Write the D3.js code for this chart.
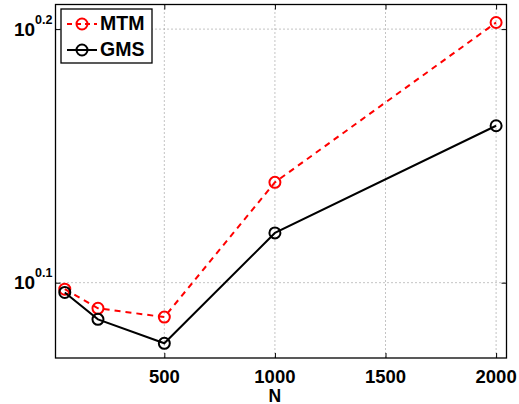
<!DOCTYPE html>
<html><head><meta charset="utf-8">
<script src="https://cdn.jsdelivr.net/npm/d3@7"></script>
<style>body{margin:0;background:#fff}svg{display:block}text{font-family:"Liberation Sans",Arial,sans-serif;font-weight:bold}</style>
</head><body>
<svg id="c" width="519" height="404"></svg>
<script>
const N = [50, 200, 500, 1000, 2000];
const mtm = [1.2515, 1.2300, 1.2202, 1.3790, 1.5944];
const gms = [1.2478, 1.2177, 1.1915, 1.3171, 1.4517];
const xTicks = [500, 1000, 1500, 2000];
const yTickExps = ["0.1", "0.2"];
const seriesNames = ["MTM", "GMS"];

const svg = d3.select("#c");
const L = 55.5, R = 506.5, T = 4.5, B = 358;
const x = d3.scaleLinear().domain([8, 2047]).range([L, R]);
const y = d3.scaleLog().domain([Math.pow(10, 0.0703), Math.pow(10, 0.2097)]).range([B, T]);

const grid = svg.append("g").attr("stroke", "#888").attr("stroke-width", 1).attr("stroke-dasharray", "1,3");
xTicks.forEach(t => grid.append("line").attr("x1", x(t)).attr("x2", x(t)).attr("y1", T).attr("y2", B));
yTickExps.forEach(e => { const v = Math.pow(10, +e); grid.append("line").attr("x1", L).attr("x2", R).attr("y1", y(v)).attr("y2", y(v)); });

// axes
const xa = svg.append("g").attr("transform", `translate(0,${B})`)
  .call(d3.axisBottom(x).tickValues(xTicks).tickSize(-5).tickFormat(""));
xa.select(".domain").remove();
xa.selectAll("line").attr("stroke", "#000");
xTicks.forEach(t => svg.append("text").attr("x", x(t)).attr("y", 382.5).attr("text-anchor", "middle")
  .attr("font-size", 18.5).attr("fill", "#000").text(d3.format("d")(t)));
const xt = svg.append("g").attr("transform", `translate(0,${T})`)
  .call(d3.axisTop(x).tickValues(xTicks).tickSize(-5).tickFormat(""));
xt.select(".domain").remove();

const ya = svg.append("g").attr("transform", `translate(${L},0)`)
  .call(d3.axisLeft(y).tickValues(yTickExps.map(e => Math.pow(10, +e))).tickSize(-5).tickFormat(""));
ya.select(".domain").remove();
const yr = svg.append("g").attr("transform", `translate(${R},0)`)
  .call(d3.axisRight(y).tickValues(yTickExps.map(e => Math.pow(10, +e))).tickSize(-5).tickFormat(""));
yr.select(".domain").remove();

yTickExps.forEach(e => {
  const v = Math.pow(10, +e);
  const tx = svg.append("text").attr("x", L - 3).attr("y", y(v) + 6.5).attr("text-anchor", "end").attr("fill", "#000");
  tx.append("tspan").attr("font-size", 19).text("10");
  tx.append("tspan").attr("font-size", 12.5).attr("dy", -12).text(e);
});

svg.append("rect").attr("x", L).attr("y", T).attr("width", R - L).attr("height", B - T)
  .attr("fill", "none").attr("stroke", "#000").attr("stroke-width", 1.3);

svg.append("text").attr("x", x(1000)).attr("y", 401.5).attr("text-anchor", "middle").attr("font-size", 17.5).text("N");

const line = d3.line().x(d => x(d[0])).y(d => y(d[1]));
const series = [
  {name: seriesNames[0], vals: mtm, color: "#ff0000", dash: "6,5"},
  {name: seriesNames[1], vals: gms, color: "#000000", dash: null}
];
series.forEach(s => {
  const pts = N.map((n, i) => [n, s.vals[i]]);
  svg.append("path").attr("d", line(pts)).attr("fill", "none").attr("stroke", s.color)
    .attr("stroke-width", 2).attr("stroke-dasharray", s.dash);
  svg.selectAll(null).data(pts).enter().append("circle")
    .attr("cx", d => x(d[0])).attr("cy", d => y(d[1])).attr("r", 5.5)
    .attr("fill", "none").attr("stroke", s.color).attr("stroke-width", 2);
});

// legend
const lg = svg.append("g");
lg.append("rect").attr("x", 61).attr("y", 9).attr("width", 91).attr("height", 54)
  .attr("fill", "#fff").attr("stroke", "#000").attr("stroke-width", 1.3);
series.forEach((s, i) => {
  const yy = 24 + i * 26;
  lg.append("line").attr("x1", 67).attr("x2", 97).attr("y1", yy).attr("y2", yy)
    .attr("stroke", s.color).attr("stroke-width", 2).attr("stroke-dasharray", s.dash ? "5,4" : null);
  lg.append("circle").attr("cx", 82).attr("cy", yy).attr("r", 5.5).attr("fill", "none")
    .attr("stroke", s.color).attr("stroke-width", 2);
  lg.append("text").attr("x", 100).attr("y", yy + 5.8).attr("font-size", 19.5).attr("fill", "#000").text(s.name);
});
</script>
</body></html>
